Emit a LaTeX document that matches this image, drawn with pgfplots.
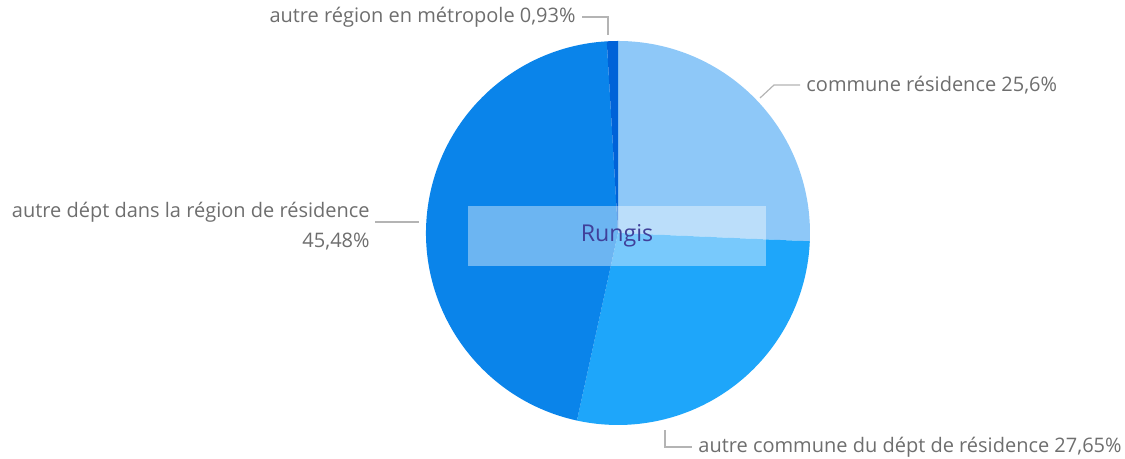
\documentclass[border=0pt]{standalone}
\usepackage{pgfplots}
\usepackage{pgfplotstable}
\pgfplotsset{compat=1.18}
\usepackage{fontspec}
\setmainfont{Open Sans}
\definecolor{cA}{HTML}{8EC8F8}
\definecolor{cB}{HTML}{1EA6FA}
\definecolor{cC}{HTML}{0A84EA}
\definecolor{cD}{HTML}{0062D8}
\definecolor{lbl}{HTML}{6E6E6E}
\definecolor{ldr}{HTML}{B4B4B4}
\definecolor{rung}{HTML}{40409A}
\pgfplotstableread[col sep=comma]{
name,value
commune residence,25.6
autre commune du dept de residence,27.65
autre dept dans la region de residence,45.48
autre region en metropole,0.93
}\piedata
\pgfplotstablegetelem{0}{value}\of\piedata \let\va\pgfplotsretval
\pgfplotstablegetelem{1}{value}\of\piedata \let\vb\pgfplotsretval
\pgfplotstablegetelem{2}{value}\of\piedata \let\vc\pgfplotsretval
\pgfplotstablegetelem{3}{value}\of\piedata \let\vd\pgfplotsretval
\pgfmathsetmacro\tot{\va+\vb+\vc+\vd}
\pgfmathsetmacro\aA{90}
\pgfmathsetmacro\aB{\aA-360*\va/\tot}
\pgfmathsetmacro\aC{\aB-360*\vb/\tot}
\pgfmathsetmacro\aD{\aC-360*\vc/\tot}
\pgfmathsetmacro\aE{\aD-360*\vd/\tot}
\begin{document}
\begin{tikzpicture}
\begin{axis}[
  scale only axis, width=562.5pt, height=229.5pt,
  xmin=0, xmax=1125, ymin=0, ymax=459,
  axis lines=none, clip=false,
]
\fill[cA] (axis cs:618,226) -- ++(\aA:96pt) arc[start angle=\aA, end angle=\aB, radius=96pt] -- cycle;
\fill[cB] (axis cs:618,226) -- ++(\aB:96pt) arc[start angle=\aB, end angle=\aC, radius=96pt] -- cycle;
\fill[cC] (axis cs:618,226) -- ++(\aC:96pt) arc[start angle=\aC, end angle=\aD, radius=96pt] -- cycle;
\fill[cD] (axis cs:618,226) -- ++(\aD:96pt) arc[start angle=\aD, end angle=\aE, radius=96pt] -- cycle;
% center label box
\fill[white, opacity=0.4] (axis cs:468,193) rectangle (axis cs:766,253);
\node[text=rung, font=\fontsize{11.6pt}{13pt}\selectfont] at (axis cs:617,223) {Rungis};
% leader lines
\draw[ldr, line width=0.6pt] (axis cs:582,442) -- (axis cs:608,442) -- (axis cs:608,424);
\draw[ldr, line width=0.6pt] (axis cs:760,361) -- (axis cs:774,374) -- (axis cs:800,374);
\draw[ldr, line width=0.6pt] (axis cs:375,237) -- (axis cs:419,237);
\draw[ldr, line width=0.6pt] (axis cs:665,29) -- (axis cs:665,12) -- (axis cs:692,12);
% labels
\begin{scope}[every node/.style={text=lbl, font=\fontsize{10pt}{15pt}\selectfont, inner sep=0pt}]
\node[anchor=east] at (axis cs:576,442) {autre région en métropole 0,93\%};
\node[anchor=west] at (axis cs:806,374) {commune résidence 25,6\%};
\node[anchor=east, align=right] at (axis cs:370,233) {autre dépt dans la région de résidence\\45,48\%};
\node[anchor=west] at (axis cs:698,12) {autre commune du dépt de résidence 27,65\%};
\end{scope}
\end{axis}
\pgfresetboundingbox
\useasboundingbox (current axis.south west) rectangle (current axis.north east);
\end{tikzpicture}
\end{document}
